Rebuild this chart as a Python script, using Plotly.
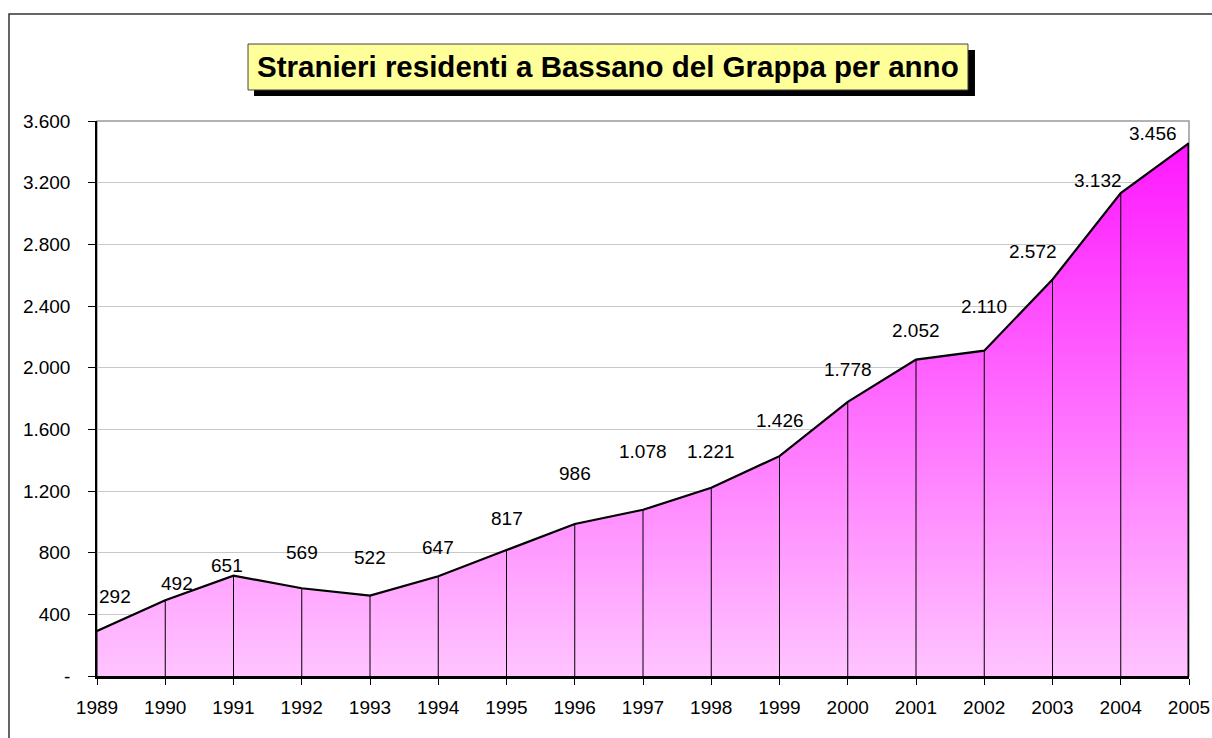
import plotly.graph_objects as go

# dati: stranieri residenti a Bassano del Grappa
anni = [1989, 1990, 1991, 1992, 1993, 1994, 1995, 1996, 1997, 1998, 1999,
        2000, 2001, 2002, 2003, 2004, 2005]
residenti = [292, 492, 651, 569, 522, 647, 817, 986, 1078, 1221, 1426,
             1778, 2052, 2110, 2572, 3132, 3456]
y_ticks = [0, 400, 800, 1200, 1600, 2000, 2400, 2800, 3200, 3600]

# offset delle etichette (pixel) - stile, non dati
label_dy = [34, 17, 10, 36, 38, 29, 32, 50, 58, 36, 36, 32, 29, 44, 28, 13, 10]
label_dx = [18, 12, -7, 0, 0, 0, 0, 0, 0, 0, 0, 0, 0, 0, -20, -23, -36]


def fmt(v):
    return "-" if v == 0 else f"{v:,}".replace(",", ".")


FONT = "Liberation Sans, Arial, sans-serif"

fig = go.Figure()

fig.add_trace(go.Scatter(
    x=anni, y=residenti,
    mode="lines",
    fill="tozeroy",
    fillgradient=dict(type="vertical",
                      colorscale=[[0, "#FFC4FF"], [1, "#FF18FF"]]),
    line=dict(color="black", width=2.2),
    error_y=dict(type="data", symmetric=False, array=[0] * len(residenti),
                 arrayminus=residenti, color="black", thickness=1, width=0),
    hoverinfo="x+y",
    showlegend=False,
))

# bordo destro dell'area
fig.add_trace(go.Scatter(
    x=[anni[-1], anni[-1]], y=[0, residenti[-1]],
    mode="lines", line=dict(color="black", width=3),
    hoverinfo="skip", showlegend=False,
))

for x, v, dy, dx in zip(anni, residenti, label_dy, label_dx):
    fig.add_annotation(x=x, y=v, text=fmt(v), showarrow=False,
                       yshift=dy, xshift=dx,
                       font=dict(family=FONT, size=19, color="black"))

# cornice esterna
fig.add_shape(type="rect", xref="paper", yref="paper",
              x0=-0.0806, x1=1.2, y0=-0.3, y1=1.1928,
              line=dict(color="#333333", width=1.5), layer="below")
# bordo area del grafico
fig.add_shape(type="rect", xref="paper", yref="paper",
              x0=0, x1=1, y0=0, y1=1,
              line=dict(color="#999999", width=1.5), layer="below")

# box del titolo con ombra
fig.add_shape(type="rect", xref="paper", yref="paper",
              x0=0.1438, x1=0.8040, y0=1.045, y1=1.128,
              fillcolor="black", line=dict(width=0))
fig.add_shape(type="rect", xref="paper", yref="paper",
              x0=0.1383, x1=0.7976, y0=1.0559, y1=1.1387,
              fillcolor="#FFFF99", line=dict(color="#444444", width=1))
fig.add_annotation(xref="paper", yref="paper", x=0.468, y=1.0973,
                   xanchor="center", yanchor="middle",
                   text="<b>Stranieri residenti a Bassano del Grappa per anno</b>",
                   showarrow=False,
                   font=dict(family=FONT, size=29.5, color="black"))

fig.update_layout(
    width=1212, height=738,
    margin=dict(l=97, r=23, t=121, b=62, autoexpand=False),
    paper_bgcolor="white", plot_bgcolor="white",
    font=dict(family=FONT, size=19, color="black"),
)
fig.update_xaxes(
    range=[anni[0], anni[-1]],
    tickvals=anni, ticktext=[str(a) for a in anni],
    ticks="outside", ticklen=6, tickcolor="black", tickwidth=1,
    showgrid=False, showline=True, linecolor="black", linewidth=2.5,
    zeroline=False, ticklabelstandoff=6,
    automargin=False, ticklabeloverflow="allow",
)
fig.update_yaxes(
    range=[0, 3600],
    tickvals=y_ticks, ticktext=[fmt(v) for v in y_ticks],
    ticks="outside", ticklen=7, tickcolor="black", tickwidth=1,
    showgrid=True, gridcolor="#C8C8C8", gridwidth=1,
    showline=True, linecolor="black", linewidth=1.5,
    zeroline=False, ticklabelstandoff=14, automargin=False,
)

# niente margine della pagina: la figura occupa tutta la finestra
fig.write_html("out.html",
               config={"displayModeBar": False},
               post_script="document.body.style.margin='0';"
                           "document.body.style.overflow='hidden';")
